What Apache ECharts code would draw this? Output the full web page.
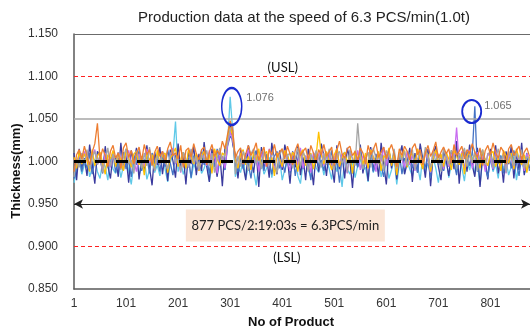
<!DOCTYPE html>
<html><head><meta charset="utf-8">
<script src="https://cdn.jsdelivr.net/npm/echarts@6/dist/echarts.min.js"></script>
<style>html,body{margin:0;padding:0;background:#fff}#c{width:530px;height:330px}</style>
</head><body><div id="c"></div>
<script>
const chartTitle = 'Production data at the speed of 6.3 PCS/min(1.0t)';
const yAxisName = 'Thickness(mm)';
const xAxisName = 'No of Product';
const boxText = '877 PCS/2:19:03s = 6.3PCS/min';
// sampled products: 1, 6, 11, ... 876 (every 5th product)
const products = [];
for (let i = 0; i < 176; i++) products.push(1 + 5 * i);
// thickness deviation from 1.000 mm, in micrometres
const devOrange = [-12,8,14,3,18,6,-4,11,21,45,2,15,7,-6,12,19, 4,10,-8,16,22,5,13,-3,9,17,1,20,8,14,-5,11, 18,6,12,-2,15,23,7,10,3,19,-7,13,16,5,21,9, 2,14,17,-4,11,20,6,13,8,24,15,32,48,36,4,12, 16,-3,9,19,7,13,22,1,10,17,-6,14,8,20,5,11, 15,3,18,9,-4,13,21,7,12,16,2,19,10,-2,14,8, 20,6,11,17,-5,13,24,9,4,15,18,7,12,1,16,10, -3,19,8,14,22,5,11,17,3,13,20,9,-6,15,7,18, 12,2,16,21,8,14,-4,10,19,6,13,23,4,11,17,9, 15,-2,20,7,12,18,3,14,9,21,11,5,16,-5,13,19, 8,22,10,4,17,12,-3,15,20,7,13,18,2,11,16,6];
const devGray = [-18,3,-7,10,-2,14,-9,5,12,-4,8,-13,1,16,-6,9, -1,11,-10,6,15,-3,2,-14,13,4,-8,10,-5,17,0,-11, 7,-4,12,1,-9,9,14,-2,5,-12,11,3,-7,15,-1,6, -10,8,2,13,-5,10,-13,4,16,-3,9,22,38,42,-15,7, -6,12,3,-11,9,15,-2,6,-9,13,1,-5,11,4,-14,8, 14,-3,7,10,-8,2,16,-6,11,5,-12,9,-1,13,3,-7, 10,-4,15,1,-10,8,12,-2,6,-13,14,3,-5,45,7,-9, 2,11,-7,16,4,-3,9,-11,13,6,-1,15,-8,10,1,12, -5,8,14,-10,3,11,-2,17,5,-7,12,0,9,-12,15,4, -3,13,6,-9,10,2,16,-6,8,-1,12,-11,7,14,-4,9, 11,-7,3,15,-2,8,-13,12,5,-5,10,1,14,-8,6,2];
const devYellow = [5,-8,12,-3,9,1,-12,14,-5,7,11,-2,-15,8,3,13, -6,10,2,-11,15,4,-7,9,12,-4,6,-16,11,1,8,-9, 13,-2,7,10,-13,4,9,16,-6,2,11,-8,14,5,-3,10, -11,6,12,-1,8,-14,15,3,-5,10,7,28,40,30,2,-8, 9,14,-4,6,-10,11,1,15,-7,8,12,-3,5,-17,10,3, -6,13,7,-2,11,4,-12,9,14,-5,2,10,-9,6,35,8, -3,12,1,-10,8,15,-6,4,11,-1,7,-14,13,2,9,-4, 10,-8,14,5,-2,12,-11,7,3,16,-5,9,-16,11,4,13, -7,6,10,-3,15,1,-9,12,8,-12,4,14,-2,9,-6,11, 3,-10,13,7,-4,10,-15,6,12,-1,8,4,-8,14,2,-5, 9,12,-6,4,-11,13,7,-2,10,-9,15,3,-4,8,-13,6];
const devBlue = [-20,-5,8,-12,3,-8,10,-15,1,-3,6,-10,12,-7,-2,9, -13,4,-6,11,-9,2,-18,7,-4,13,-11,0,6,-14,10,-3, 5,-12,9,-6,14,-2,-16,8,1,-9,11,-5,4,-19,7,-1, -8,12,-4,3,-14,9,-7,15,-2,6,-10,18,30,26,-6,-12, 4,-9,10,-3,-20,7,13,-6,2,-11,9,-1,-15,6,12,-8, 1,-13,8,-5,11,-17,3,14,-9,5,-2,-22,7,10,-6,2, -11,9,-4,13,-8,1,-25,6,11,-3,8,-14,4,-7,12,-10, 3,-6,15,-12,0,9,-5,-18,7,12,-2,5,-9,10,-15,4, -3,11,-8,6,-13,14,2,-7,9,-20,5,10,-4,1,-11,8, -6,13,-1,-16,7,3,-9,12,-5,8,65,-12,2,10,-7,-19, 5,-10,11,-3,7,-14,1,9,-8,13,-2,-17,6,-5,10,-11];
const devLightBlue = [-25,-10,2,-15,-4,6,-18,-8,3,-12,-20,0,-6,-22,4,-9, -14,1,-19,-5,7,-11,-27,-2,5,-16,-7,3,-21,-10,2,-13, -4,-17,6,-9,-24,-1,8,47,-12,0,-15,-6,4,-20,-3,-11, 5,-14,-8,2,-23,-5,7,-16,-2,4,-10,20,76,35,-18,-7, -13,3,-20,-6,6,-11,-28,-3,2,-15,-8,5,-19,-1,-12,4, -22,-9,1,-14,-4,7,-17,-26,-2,3,-10,-18,5,-7,-13,0, -16,2,-8,-21,6,-12,-3,-30,4,-9,-15,1,-19,-5,3,-11, -7,-24,5,-13,-1,8,-18,-6,2,-20,-10,4,-27,-3,6,-14, 1,-9,-17,3,-5,-22,7,-12,-2,-16,5,-8,-25,0,-11,4, -19,-4,6,-13,10,-7,-23,2,-10,5,-15,-1,-28,3,-8,-17, 4,-12,-3,-20,7,-9,1,-16,-6,5,-22,-2,3,-14,-8,2];
const devNavy = [10,-22,15,-8,4,-17,20,-3,-26,12,6,-14,18,-5,-20,9, 3,-18,22,-10,7,-25,13,-2,16,-21,5,-12,19,-7,-28,11, -4,17,-15,8,-23,14,1,-19,21,-9,6,-27,12,-3,18,-16, 9,-11,23,-6,-24,15,2,-18,10,-29,16,25,45,20,8,-20, 14,-5,-22,19,3,-13,11,-30,17,-8,6,-19,22,-2,-15,13, -10,20,4,-26,12,-7,18,-16,5,-22,15,-1,-28,10,-12,21, 7,-17,13,-4,-25,19,-9,8,-20,16,2,-31,11,-6,20,-14, 5,-23,17,-11,9,-18,22,-3,-27,14,-8,12,-21,6,19,-15, -2,16,-24,10,-13,21,3,-19,15,-29,8,18,-6,-22,13,1, -17,11,-9,24,-26,7,14,-12,20,-4,-18,16,-30,9,2,-21, 15,-7,19,-14,4,-25,12,-3,18,-20,10,-10,22,-16,6,-8];
const devViolet = [3,-6,9,-2,12,0,-9,7,14,-4,5,-11,10,2,-7,8, -3,11,4,-8,6,13,-5,1,-12,9,3,-6,15,-1,7,-10, 8,-4,12,2,-9,6,16,-3,4,-13,10,1,-7,14,-2,5, -11,9,3,-5,13,-1,7,-14,11,4,-8,20,35,25,2,-6, 10,-3,6,14,-9,2,8,-12,12,0,-6,15,4,-10,9,3, -7,13,1,-11,10,5,-4,16,-8,7,2,-13,11,-2,8,14, -5,6,12,-9,3,15,-6,9,1,-14,10,4,-3,13,-10,7, 2,-8,14,5,-12,9,0,17,-5,11,-2,6,-15,10,3,-7, 12,-4,8,-11,15,1,-7,10,4,-13,13,8,-1,6,-9,11, -6,9,3,40,-3,12,-10,5,14,-8,2,11,-4,7,-12,10, 4,-9,13,1,-5,10,-14,8,3,-7,12,-1,6,-11,9,2];

const USL = 1.100, LSL = 0.900, warnLine = 1.050, targetLine = 1.000, topLine = 1.150, spanLine = 0.950;
const peakLabels = [{product: 331, value: 1.0753, text: '1.076'}, {product: 788, value: 1.0659, text: '1.065'}];
const peakCircles = [{product: 304, value: 1.0647, size: [20, 37]}, {product: 765, value: 1.0588, size: [19, 23]}];

const seriesDefs = [
  {name: 'S1', color: '#5fc9e8', dev: devLightBlue},
  {name: 'S2', color: '#3a3a9e', dev: devNavy},
  {name: 'S3', color: '#4472c4', dev: devBlue},
  {name: 'S4', color: '#c86cf0', dev: devViolet},
  {name: 'S5', color: '#ffc000', dev: devYellow},
  {name: 'S6', color: '#a5a5a5', dev: devGray},
  {name: 'S7', color: '#ed7d31', dev: devOrange}
];

const chart = echarts.init(document.getElementById('c'), null, {renderer: 'canvas'});
const toX = p => p - 1;
const series = seriesDefs.map(s => ({
  name: s.name, type: 'line', z: 2, symbol: 'none', animation: false,
  lineStyle: {width: 1.3, color: s.color}, itemStyle: {color: s.color},
  data: products.map((p, i) => [toX(p), +(1 + s.dev[i] / 1000).toFixed(3)])
}));
const plainLine = (y, color, width, type) => ({yAxis: y, lineStyle: {color, width, type}});
series.unshift({
  type: 'line', z: 1, data: [], animation: false,
  markLine: {silent: true, symbol: ['none', 'none'], label: {show: false}, animation: false,
    data: [
      plainLine(topLine, '#6b6b6b', 1, 'solid'),
      plainLine(USL, '#ff2020', 1, [4, 3]),
      plainLine(LSL, '#ff2020', 1, [4, 3]),
      plainLine(warnLine, '#a6a6a6', 1.5, 'solid')
    ]}
});
series.push({
  type: 'line', z: 10, data: [], animation: false,
  markLine: {silent: true, symbol: ['none', 'none'], label: {show: false}, animation: false,
    data: [plainLine(targetLine, '#000', 3, [12, 9])]}
});
series.push({
  type: 'line', z: 10, data: [], animation: false,
  markLine: {silent: true, symbol: ['arrow', 'arrow'], symbolSize: [7, 9], label: {show: false}, animation: false,
    data: [plainLine(spanLine, '#222', 1, 'solid')]}
});
series.push({
  type: 'line', z: 11, data: [], animation: false,
  markPoint: {silent: true, animation: false,
    data: [
      ...peakCircles.map(c => ({coord: [toX(c.product), c.value], symbol: 'circle', symbolSize: c.size,
        itemStyle: {color: 'rgba(0,0,0,0)', borderColor: '#1a2bd0', borderWidth: 2}, label: {show: false}})),
      ...peakLabels.map(l => ({coord: [toX(l.product), l.value], symbol: 'circle', symbolSize: 1,
        itemStyle: {color: 'rgba(0,0,0,0)'},
        label: {show: true, formatter: l.text, position: 'right', distance: 0, color: '#707070', fontSize: 11, fontFamily: 'Liberation Sans'}})),
      {coord: [toX(402), 1.1106], symbol: 'circle', symbolSize: 1, itemStyle: {color: 'rgba(0,0,0,0)'},
        label: {show: true, formatter: '(USL)', position: 'inside', color: '#111', fontSize: 13, fontFamily: 'Lato'}},
      {coord: [toX(410), 0.887], symbol: 'circle', symbolSize: 1, itemStyle: {color: 'rgba(0,0,0,0)'},
        label: {show: true, formatter: '(LSL)', position: 'inside', color: '#111', fontSize: 13, fontFamily: 'Lato'}},
      {coord: [toX(407), 0.9247], symbol: 'circle', symbolSize: 1, itemStyle: {color: 'rgba(0,0,0,0)'},
        label: {show: true, formatter: boxText, position: 'inside', color: '#222', fontSize: 13, fontFamily: 'Lato',
          backgroundColor: '#fbe5d6', width: 175, height: 16, lineHeight: 16, align: 'center', padding: [8, 12]}}
    ]}
});

chart.setOption({
  animation: false,
  backgroundColor: '#fff',
  title: {text: chartTitle, left: 299, top: 5, textAlign: 'center',
    textStyle: {fontSize: 15, fontWeight: 'normal', color: '#222', fontFamily: 'Liberation Sans'}},
  grid: {left: 74, top: 34, right: -1, bottom: 41},
  xAxis: {type: 'value', min: 0, max: 876, interval: 100,
    axisLine: {lineStyle: {color: '#595959', width: 1.5}}, axisTick: {show: false}, splitLine: {show: false},
    axisLabel: {formatter: v => String(v + 1), showMaxLabel: false, margin: 9, color: '#333', fontSize: 12, fontFamily: 'Liberation Sans'}},
  yAxis: {type: 'value', min: 0.85, max: 1.15, interval: 0.05,
    axisLine: {show: true, lineStyle: {color: '#595959', width: 1.5}}, axisTick: {show: false}, splitLine: {show: false},
    axisLabel: {formatter: v => v.toFixed(3), margin: 16, color: '#333', fontSize: 12, fontFamily: 'Liberation Sans'}},
  graphic: [
    {type: 'text', x: 16, y: 171, rotation: Math.PI / 2,
      style: {text: yAxisName, font: 'bold 13px "Liberation Sans"', fill: '#111', textAlign: 'center', textVerticalAlign: 'middle'}},
    {type: 'text', x: 291, y: 322,
      style: {text: xAxisName, font: 'bold 13px "Liberation Sans"', fill: '#111', textAlign: 'center', textVerticalAlign: 'middle'}}
  ],
  series
});
</script></body></html>
